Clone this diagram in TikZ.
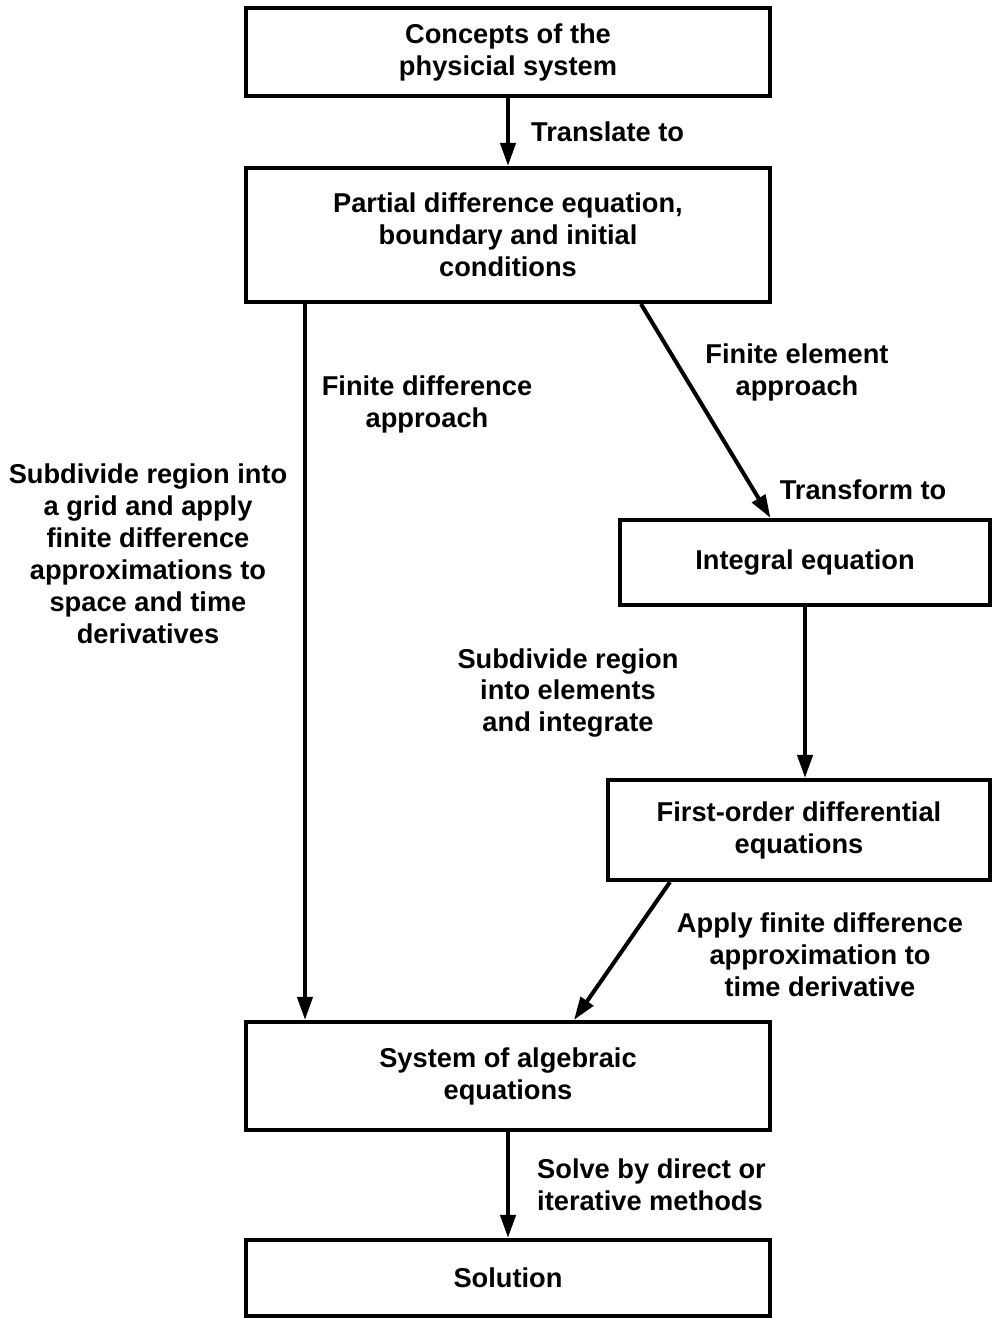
\documentclass[tikz,border=0pt]{standalone}
\usepackage{fontspec}
\setmainfont{Liberation Sans}
\usepackage{tikz}
\usetikzlibrary{arrows.meta, positioning, calc}

\begin{document}
\begin{tikzpicture}[
    box/.style={draw, minimum width=10.48cm, text centered, align=center,
                font=\bfseries\fontsize{15.5}{18.2}\selectfont, line width=2.3pt},
    smallbox/.style={box, minimum width=7.5cm},
    lbl/.style={align=center, font=\bfseries\fontsize{15.5}{18.2}\selectfont},
    arrow/.style={-{Triangle[length=4.6mm, width=3mm]}, line width=2.3pt}
  ]
    \useasboundingbox (0,0) rectangle (19.84,-26.36);

    % Main column
    \node[box, minimum height=1.76cm] (concepts) at (10.16,-1.04) {Concepts of the\\physicial system};
    \node[box, minimum height=2.68cm] (pde) at (10.16,-4.70)
      {Partial difference equation,\\boundary and initial\\conditions};
    \node[box, minimum height=2.16cm] (algebraic) at (10.16,-21.52) {System of algebraic\\equations};
    \node[box, minimum height=1.52cm] (solution) at (10.16,-25.56) {Solution};

    % Finite element branch
    \node[smallbox, minimum width=7.4cm, minimum height=1.7cm] (integral) at (16.10,-11.25) {Integral equation};
    \node[smallbox, minimum width=7.64cm, minimum height=2.0cm] (firstorder) at (15.98,-16.6)
      {First-order differential\\equations};

    % Labels
    \node[lbl, anchor=west] (translate) at (10.50,-2.64) {Translate to};
    \node[lbl] (fdlbl) at (8.54,-8.08) {Finite difference\\approach};
    \node[lbl] (felbl) at (15.94,-7.44) {Finite element\\approach};
    \node[lbl] (transform) at (17.26,-9.8) {Transform to};
    \node[lbl] (gridlbl) at (2.96,-11.08)
      {Subdivide region into\\a grid and apply\\finite difference\\approximations to\\space and time\\derivatives};
    \node[lbl] (elemlbl) at (11.36,-13.86) {Subdivide region\\into elements\\and integrate};
    \node[lbl] (timelbl) at (16.4,-19.1) {Apply finite difference\\approximation to\\time derivative};
    \node[lbl, anchor=west, align=left] (solvelbl) at (10.62,-23.70) {Solve by direct or\\iterative methods};

    % Arrows
    \draw[arrow] (concepts) -- (pde);
    \draw[arrow] ([xshift=1.22cm]pde.south west) -- ([xshift=1.22cm]algebraic.north west);
    \draw[arrow] ([xshift=7.94cm]pde.south west) -- ([xshift=3.05cm]integral.north west);
    \draw[arrow] (integral.south) -- (integral.south |- firstorder.north);
    \draw[arrow] ([xshift=1.28cm]firstorder.south west) -- ([xshift=6.6cm]algebraic.north west);
    \draw[arrow] (algebraic) -- (solution);

  \end{tikzpicture}
\end{document}
